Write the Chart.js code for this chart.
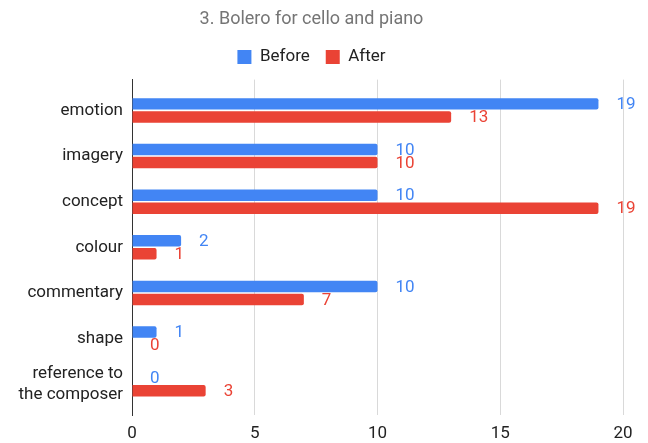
<!DOCTYPE html>
<html>
<head>
<meta charset="utf-8">
<script src="https://cdn.jsdelivr.net/npm/chart.js@4/dist/chart.umd.min.js"></script>
<style>
  html, body { margin: 0; padding: 0; background: #fff; }
  #wrap { width: 648px; height: 443px; }
</style>
</head>
<body>
<div id="wrap"><canvas id="responses"></canvas></div>
<script>
// Chart data
const categories = ['emotion', 'imagery', 'concept', 'colour', 'commentary', 'shape', ['reference to', 'the composer']];
const beforeCounts = [19, 10, 10, 2, 10, 1, 0];
const afterCounts = [13, 10, 19, 1, 7, 0, 3];
const xTicks = [0, 5, 10, 15, 20];

const BLUE = '#4285F4';
const RED = '#EA4335';
const FONT = 'Roboto, "Noto Sans", sans-serif';

// categories sit on a numeric axis so the rows can be inset from the plot edges
const toPoints = counts => counts.map((v, i) => ({ x: v, y: i }));
const ROW_MIN = -0.675;
const ROW_MAX = categories.length - 0.325;

// Draw the count next to the end of each bar
const barValueLabels = {
    id: 'barValueLabels',
    afterDatasetsDraw(chart) {
        const ctx = chart.ctx;
        ctx.save();
        ctx.font = '17px ' + FONT;
        ctx.textAlign = 'left';
        ctx.textBaseline = 'middle';
        chart.data.datasets.forEach((ds, i) => {
            const meta = chart.getDatasetMeta(i);
            ctx.fillStyle = ds.backgroundColor;
            meta.data.forEach((bar, j) => {
                ctx.fillText(String(ds.data[j].x), bar.x + 18, bar.y + 1);
            });
        });
        ctx.restore();
    }
};

// Tweak the space between the legend and the plot
const legendGap = {
    id: 'legendGap',
    beforeInit(chart) {
        const fit = chart.legend.fit;
        chart.legend.fit = function () {
            fit.bind(chart.legend)();
            this.height += 4;
        };
    }
};

const ctx = document.getElementById('responses').getContext('2d');
new Chart(ctx, {
    type: 'bar',
    data: {
        datasets: [
            { label: 'Before', data: toPoints(beforeCounts), backgroundColor: BLUE },
            { label: 'After', data: toPoints(afterCounts), backgroundColor: RED }
        ]
    },
    options: {
        indexAxis: 'y',
        responsive: true,
        maintainAspectRatio: false,
        animation: false,
        layout: { padding: { left: 0, right: 25, top: 0, bottom: 0 } },
        datasets: {
            bar: {
                categoryPercentage: 0.57,
                barPercentage: 0.88,
                borderRadius: { topRight: 2, bottomRight: 2 },
                borderSkipped: 'start'
            }
        },
        plugins: {
            title: {
                display: true,
                text: '3. Bolero for cello and piano',
                color: '#757575',
                font: { family: FONT, size: 18, weight: 'normal' },
                padding: { top: 9, bottom: 2 }
            },
            legend: {
                labels: {
                    color: '#222',
                    font: { family: FONT, size: 17 },
                    boxWidth: 14,
                    boxHeight: 14,
                    padding: 16
                }
            },
            tooltip: { enabled: false }
        },
        scales: {
            x: {
                min: 0,
                max: 20,
                afterBuildTicks: axis => { axis.ticks = xTicks.map(v => ({ value: v })); },
                grid: { color: '#d9d9d9', drawTicks: false },
                border: { display: false },
                ticks: { color: '#222', font: { family: FONT, size: 17 }, padding: 9 },
                afterFit: axis => { axis.height = 28; }
            },
            y: {
                type: 'linear',
                reverse: true,
                offset: false,
                bounds: 'data',
                min: ROW_MIN,
                max: ROW_MAX,
                afterBuildTicks: axis => {
                    axis.ticks = categories.map((c, i) => ({ value: i }));
                    axis.min = ROW_MIN;
                    axis.max = ROW_MAX;
                },
                grid: { display: false, drawTicks: false, offset: false },
                border: { display: true, color: '#333', width: 1 },
                ticks: {
                    color: '#222',
                    font: { family: FONT, size: 17 },
                    padding: 9,
                    callback: v => categories[v]
                },
                afterFit: axis => { axis.width = 132; }
            }
        }
    },
    plugins: [barValueLabels, legendGap]
});
</script>
</body>
</html>
